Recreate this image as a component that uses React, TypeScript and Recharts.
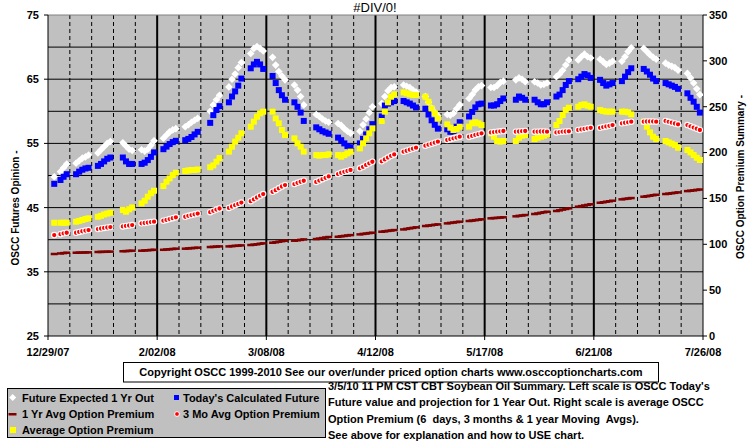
import React from 'react';
import { ComposedChart, Line, XAxis, YAxis, CartesianGrid, ReferenceLine } from 'recharts';

const FONT = '"Liberation Sans", Arial, sans-serif';

// X axis (days since 12/29/07), tick labels
const xTickDays = [0, 35, 70, 105, 140, 175, 210];
const xTickLabels = ['12/29/07', '2/02/08', '3/08/08', '4/12/08', '5/17/08', '6/21/08', '7/26/08'];
const leftTicks = [25, 35, 45, 55, 65, 75];
const rightTicks = [0, 50, 100, 150, 200, 250, 300, 350];
const leftGridValues = [30, 35, 40, 45, 50, 55, 60, 65, 70];
const weeklyGridDays = [7, 14, 21, 28, 42, 49, 56, 63, 77, 84, 91, 98, 112, 119, 126, 133, 147, 154, 161, 168, 182, 189, 196, 203];
const majorGridDays = [35, 70, 105, 140, 175];

// Trading days: 30 weeks x Mon..Fri (null = market holiday)
const WEEKS = 30;

// Future Expected 1 Yr Out (left axis)
const futureExpected = [
  49.8, null, 50.6, 51.2, 51.8,
  51.9, 52.3, 52.7, 52.9, 53.2,
  53.5, 54.0, 54.5, 55.0, 55.3,
  null, 55.1, 54.6, 54.1, 53.9,
  54.0, 53.8, 54.1, 54.7, 55.4,
  55.8, 56.3, 56.8, 57.1, 57.3,
  57.6, 57.9, 58.3, 58.6, 58.9,
  null, 60.0, 61.0, 61.8, 62.5,
  63.8, 65.0, 65.8, 66.8, 67.6,
  69.0, 69.8, 70.1, 69.8, 69.4,
  68.4, 67.2, 66.2, 65.5, 64.9,
  64.1, 63.3, 62.3, 61.0, null,
  59.5, 59.2, 58.8, 58.5, 58.3,
  58.1, 57.8, 57.3, 56.9, 56.6,
  56.9, 57.9, 58.8, 59.8, 60.7,
  61.2, 62.3, 63.2, 63.7, 63.8,
  64.1, 63.9, 63.7, 63.3, 63.0,
  62.3, 61.4, 60.5, 59.8, 59.3,
  59.5, 59.4, 59.7, 60.4, 61.0,
  62.0, 62.6, 63.3, 63.8, 64.0,
  63.7, 63.7, 64.0, 64.5, 64.7,
  null, 64.9, 65.2, 65.0, 64.6,
  64.6, 64.4, 64.1, 64.2, 64.4,
  65.4, 65.8, 66.4, 67.2, 68.0,
  68.0, 68.5, 68.9, 68.5, 68.3,
  68.1, 67.7, 67.3, 67.5, 67.8,
  67.8, 68.5, 69.3, 69.9, null,
  69.8, 69.3, 68.8, 68.4, 68.1,
  67.5, 67.2, 67.0, 66.8, 66.4,
  65.9, 65.2, 64.4, 63.5, 62.6,
];

// Today's Calculated Future (left axis)
const todaysFuture = [
  48.7, null, 49.3, 49.8, 50.2,
  50.2, 50.6, 50.9, 51.1, 51.2,
  51.5, 51.8, 52.2, 52.6, 52.8,
  null, 52.8, 52.2, 51.8, 51.8,
  51.8, 52.0, 52.4, 52.9, 53.6,
  54.1, 54.5, 54.9, 55.2, 55.4,
  55.5, 55.7, 56.0, 56.4, 56.8,
  null, 58.2, 59.4, 60.2, 60.8,
  61.4, 62.3, 63.1, 64.0, 65.1,
  66.7, 67.3, 67.7, 67.3, 66.6,
  65.5, 64.4, 63.3, 62.5, 61.8,
  61.4, 60.7, 59.8, 58.5, null,
  57.5, 57.2, 56.9, 56.7, 56.5,
  55.9, 55.5, 55.0, 54.6, 54.4,
  55.0, 55.7, 56.4, 57.2, 58.0,
  59.2, 60.9, 61.2, 61.4, 61.6,
  61.6, 61.4, 61.2, 60.9, 60.6,
  60.4, 59.5, 58.6, 57.9, 57.3,
  57.2, 56.8, 56.9, 57.6, 58.3,
  59.2, 59.9, 60.6, 61.1, 61.2,
  60.9, 60.9, 61.1, 61.6, 62.0,
  null, 61.8, 62.3, 62.1, 61.8,
  61.8, 61.4, 61.1, 61.1, 61.4,
  62.3, 62.6, 63.3, 64.1, 64.7,
  65.0, 65.4, 65.8, 65.6, 65.2,
  64.9, 64.4, 64.0, 64.2, 64.4,
  64.7, 65.4, 66.1, 66.7, null,
  66.6, 66.2, 65.7, 65.1, 64.7,
  64.4, 64.2, 64.0, 63.8, 63.5,
  62.8, 62.1, 61.5, 60.7, 59.8,
];

// 1 Yr Avg Option Premium (right axis)
const yearAvgPremium = [
  89.4, null, 90.0, 90.4, 90.8,
  90.8, 90.9, 91.0, 91.1, 91.2,
  91.6, 91.7, 91.8, 91.9, 92.0,
  null, 92.4, 92.6, 92.8, 93.0,
  93.0, 93.3, 93.5, 93.8, 94.0,
  94.0, 94.3, 94.6, 94.9, 95.2,
  95.2, 95.5, 95.8, 96.0, 96.3,
  null, 97.0, 97.2, 97.5, 97.7,
  97.7, 98.0, 98.3, 98.5, 98.8,
  99.2, 99.6, 100.0, 100.6, 101.0,
  101.7, 102.2, 102.8, 103.4, 103.9,
  103.9, 104.4, 104.8, 105.3, null,
  105.7, 106.2, 106.8, 107.4, 107.9,
  108.2, 108.7, 109.1, 109.6, 110.0,
  110.8, 111.3, 111.7, 112.2, 112.6,
  113.7, 114.1, 114.6, 115.0, 115.5,
  116.2, 116.8, 117.4, 117.9, 118.5,
  119.9, 120.4, 120.8, 121.3, 121.7,
  122.8, 123.3, 123.7, 124.2, 124.6,
  125.4, 125.8, 126.3, 126.7, 127.2,
  128.3, 128.6, 128.8, 129.1, 129.4,
  null, 130.5, 131.0, 131.4, 131.9,
  133.0, 133.6, 134.3, 134.9, 135.5,
  136.3, 137.0, 137.8, 138.5, 139.2,
  141.0, 141.6, 142.3, 142.9, 143.6,
  145.3, 145.8, 146.4, 146.9, 147.5,
  149.0, 149.5, 149.9, 150.4, null,
  151.9, 152.4, 152.9, 153.5, 154.0,
  154.8, 155.2, 155.7, 156.1, 156.6,
  158.0, 158.4, 158.8, 159.3, 159.7,
];

// 3 Mo Avg Option Premium (right axis)
const threeMoAvgPremium = [
  110.0, null, 111.0, 112.0, 112.6,
  112.6, 113.5, 114.2, 115.0, 115.5,
  116.6, 117.2, 117.8, 118.3, 118.8,
  null, 119.5, 120.0, 120.5, 121.0,
  122.8, 123.2, 123.7, 124.2, 124.6,
  125.7, 126.6, 127.5, 128.5, 129.4,
  130.0, 131.0, 131.8, 132.7, 133.5,
  null, 135.0, 136.5, 137.8, 139.0,
  139.7, 141.2, 142.6, 144.0, 145.5,
  147.0, 149.0, 151.0, 153.0, 154.8,
  157.3, 159.0, 161.0, 163.0, 164.6,
  165.7, 167.0, 168.2, 169.3, null,
  168.0, 169.5, 171.0, 172.5, 174.0,
  176.6, 178.0, 179.0, 180.0, 181.0,
  182.8, 184.5, 186.5, 188.3, 190.0,
  190.5, 192.5, 194.5, 196.5, 198.0,
  201.0, 202.0, 203.2, 204.3, 205.3,
  207.5, 208.6, 209.7, 210.8, 211.9,
  213.7, 214.6, 215.5, 216.4, 217.3,
  217.3, 218.2, 219.2, 220.1, 221.0,
  222.0, 222.4, 222.8, 223.2, 223.5,
  null, 222.8, 223.0, 223.3, 223.5,
  222.8, 222.8, 223.0, 223.0, 222.8,
  222.0, 222.4, 222.8, 223.0, 223.2,
  224.6, 225.2, 225.8, 226.4, 227.0,
  227.0, 227.8, 228.5, 229.2, 230.0,
  231.9, 232.5, 233.0, 233.7, null,
  233.7, 233.9, 234.0, 233.9, 233.7,
  234.4, 233.5, 232.6, 231.7, 230.8,
  230.0, 228.6, 227.3, 226.0, 224.6,
];

// Average Option Premium (right axis)
const avgPremium = [
  123.5, null, 123.5, 123.5, 123.5,
  124.6, 125.5, 126.5, 127.5, 128.3,
  130.0, 131.0, 132.5, 133.5, 134.4,
  null, 137.4, 135.5, 138.1, 140.2,
  144.6, 147.5, 151.9, 155.6, 158.4,
  163.5, 168.2, 171.9, 175.5, 178.0,
  180.0, 180.5, 181.0, 181.0, 181.5,
  null, 184.0, 186.0, 190.0, 194.0,
  201.0, 206.4, 211.9, 216.2, 221.0,
  228.2, 233.7, 239.1, 242.8, 244.6,
  244.6, 237.3, 231.9, 224.6, 219.1,
  215.5, 210.1, 206.4, 201.0, null,
  197.3, 196.6, 197.3, 197.3, 198.1,
  197.3, 195.5, 197.3, 199.1, 201.0,
  204.6, 210.1, 215.5, 221.0, 226.4,
  234.4, 244.6, 254.8, 260.9, 263.5,
  265.7, 264.6, 263.5, 262.8, 262.8,
  260.9, 255.5, 248.2, 242.8, 237.3,
  230.8, 227.1, 224.6, 225.7, 228.2,
  228.2, 231.9, 233.0, 231.9, 230.0,
  221.0, 217.3, 212.6, 211.9, 212.6,
  null, 212.6, 216.2, 218.4, 219.1,
  214.8, 216.2, 217.3, 218.4, 219.9,
  230.0, 234.4, 240.9, 246.4, 248.9,
  250.0, 251.9, 252.6, 251.1, 250.0,
  246.4, 245.3, 244.6, 244.6, 244.6,
  244.6, 244.6, 243.9, 241.7, null,
  233.7, 228.2, 222.0, 217.3, 214.8,
  212.6, 211.1, 209.7, 208.2, 205.3,
  202.8, 200.2, 197.3, 194.4, 191.9,
];

const tradingDays: number[] = [];
for (let w = 0; w < WEEKS; w++) {
  for (let k = 0; k < 5; k++) tradingDays.push(7 * w + 2 + k);
}

const data = tradingDays.map((day, i) => ({
  day,
  fe: futureExpected[i],
  tc: todaysFuture[i],
  yr: yearAvgPremium[i],
  mo: threeMoAvgPremium[i],
  avg: avgPremium[i],
}));

const isMissing = (p: any) => p.value == null || p.cy == null || Number.isNaN(p.cy);

const DiamondDot = (p: any) => {
  if (isMissing(p)) return <g key={`fe-${p.index}`} />;
  const { cx, cy } = p;
  const r = 3.8;
  return <polygon key={`fe-${p.index}`} points={`${cx},${cy - r} ${cx + r},${cy} ${cx},${cy + r} ${cx - r},${cy}`} fill="#FFFFFF" />;
};
const BlueDot = (p: any) => {
  if (isMissing(p)) return <g key={`tc-${p.index}`} />;
  return <rect key={`tc-${p.index}`} x={p.cx - 3} y={p.cy - 3} width={6} height={6} fill="#0000FF" />;
};
const DashDot = (p: any) => {
  if (isMissing(p)) return <g key={`yr-${p.index}`} />;
  return <rect key={`yr-${p.index}`} x={p.cx - 3.5} y={p.cy - 1.25} width={7} height={2.5} fill="#800000" />;
};
const RedDot = (p: any) => {
  if (isMissing(p)) return <g key={`mo-${p.index}`} />;
  return <circle key={`mo-${p.index}`} cx={p.cx} cy={p.cy} r={2.7} fill="#FF0000" stroke="#FFFFFF" strokeWidth={1.1} />;
};
const YellowDot = (p: any) => {
  if (isMissing(p)) return <g key={`avg-${p.index}`} />;
  return <rect key={`avg-${p.index}`} x={p.cx - 3} y={p.cy - 3} width={6} height={6} fill="#FFFF00" />;
};

const tickStyle = { fontSize: 11, fontWeight: 700, fill: '#000', fontFamily: FONT };

const rightTextLines = [
  "3/5/10 11 PM CST CBT Soybean Oil Summary. Left scale is OSCC Today's",
  'Future value and projection for 1 Year Out. Right scale is average OSCC',
  'Option Premium (6  days, 3 months & 1 year Moving  Avgs).',
  'See above for explanation and how to USE chart.',
];

export default function App() {
  return (
    <div style={{ position: 'absolute', left: 0, top: 0, width: 755, height: 446, background: '#FFFFFF', fontFamily: FONT }}>
      <ComposedChart width={755} height={446} data={data} margin={{ top: 15, right: 0, bottom: 0, left: 0 }}>
        <CartesianGrid yAxisId="left" xAxisId="x" fill="#C0C0C0" fillOpacity={1} stroke="#000000" vertical={false} horizontalValues={leftGridValues} />
        <CartesianGrid yAxisId="left" xAxisId="x" stroke="#000000" horizontal={false} strokeDasharray="4 3" verticalValues={weeklyGridDays} />
        <CartesianGrid yAxisId="left" xAxisId="x" stroke="#000000" strokeWidth={2} horizontal={false} verticalValues={majorGridDays} />
        <XAxis
          xAxisId="x"
          dataKey="day"
          type="number"
          domain={[0, 210]}
          ticks={xTickDays}
          interval={0}
          tickFormatter={(v: number) => xTickLabels[xTickDays.indexOf(v)] ?? ''}
          height={110}
          stroke="#000"
          tickSize={4}
          tickMargin={8}
          tick={tickStyle}
          allowDataOverflow
        />
        <YAxis
          yAxisId="left"
          domain={[25, 75]}
          ticks={leftTicks}
          interval={0}
          width={48}
          stroke="#000"
          tickSize={4}
          tickMargin={5}
          tick={tickStyle}
          allowDataOverflow
        />
        <YAxis
          yAxisId="right"
          orientation="right"
          domain={[0, 350]}
          ticks={rightTicks}
          interval={0}
          width={52}
          stroke="#000"
          tickSize={4}
          tickMargin={2}
          tick={tickStyle}
          allowDataOverflow
        />
        <ReferenceLine yAxisId="left" xAxisId="x" y={75} stroke="#808080" />
        <Line xAxisId="x" yAxisId="left" dataKey="fe" stroke="none" dot={DiamondDot} activeDot={false} isAnimationActive={false} />
        <Line xAxisId="x" yAxisId="left" dataKey="tc" stroke="none" dot={BlueDot} activeDot={false} isAnimationActive={false} />
        <Line xAxisId="x" yAxisId="right" dataKey="yr" stroke="none" dot={DashDot} activeDot={false} isAnimationActive={false} />
        <Line xAxisId="x" yAxisId="right" dataKey="avg" stroke="none" dot={YellowDot} activeDot={false} isAnimationActive={false} />
        <Line xAxisId="x" yAxisId="right" dataKey="mo" stroke="none" dot={RedDot} activeDot={false} isAnimationActive={false} />
      </ComposedChart>
      <svg width={755} height={446} style={{ position: 'absolute', left: 0, top: 0, pointerEvents: 'none' }} fontFamily={FONT}>
        <text x={375} y={12} textAnchor="middle" fontSize={13} fill="#000">#DIV/0!</text>
        <text transform="translate(18.5,208) rotate(-90)" textAnchor="middle" fontSize={10} fontWeight={700} fill="#000">OSCC Futures Opinion -</text>
        <text transform="translate(743.5,177) rotate(-90)" textAnchor="middle" fontSize={10} fontWeight={700} fill="#000">OSCC Option Premium Summary -</text>

        <rect x={123.5} y={362.5} width={535} height={19.5} fill="#FFFFFF" stroke="#000" />
        <text x={391} y={376} textAnchor="middle" fontSize={11} fontWeight={700} fill="#000">Copyright OSCC 1999-2010 See our over/under priced option charts www.osccoptioncharts.com</text>

        <rect x={7.5} y={388.5} width={318} height={49} fill="#C0C0C0" stroke="#000" />
        <polygon points="12.7,394 16.2,397.5 12.7,401 9.2,397.5" fill="#FFFFFF" />
        <text x={22} y={401.5} fontSize={11} fontWeight={700} fill="#000">Future Expected 1 Yr Out</text>
        <rect x={174} y={395} width={5} height={5} fill="#0000FF" />
        <text x={183} y={401.5} fontSize={11} fontWeight={700} fill="#000">Today's Calculated Future</text>
        <rect x={8.5} y={413} width={8} height={2.5} fill="#800000" />
        <text x={22} y={418} fontSize={11} fontWeight={700} fill="#000">1 Yr Avg Option Premium</text>
        <circle cx={177} cy={414} r={2.4} fill="#FF0000" stroke="#FFFFFF" strokeWidth={1} />
        <text x={183} y={418} fontSize={11} fontWeight={700} fill="#000">3 Mo Avg Option Premium</text>
        <rect x={10} y={427} width={6} height={6} fill="#FFFF00" />
        <text x={22} y={434} fontSize={11} fontWeight={700} fill="#000">Average Option Premium</text>

        {rightTextLines.map((t, i) => (
          <text key={i} x={328} y={390 + i * 16.3} fontSize={11} fontWeight={700} fill="#000" style={{ whiteSpace: 'pre' }}>{t}</text>
        ))}
      </svg>
    </div>
  );
}
